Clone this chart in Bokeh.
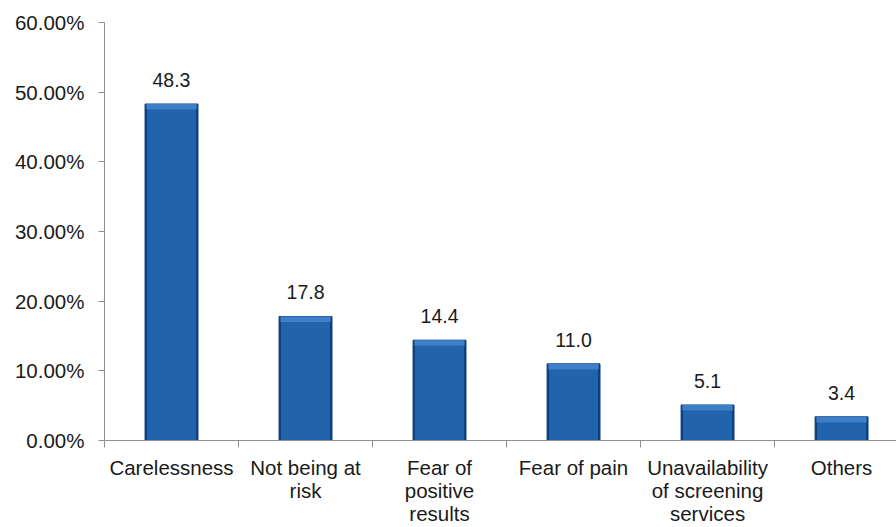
from bokeh.plotting import figure
from bokeh.models import ColumnDataSource, Range1d, FixedTicker, PrintfTickFormatter, LabelSet
from bokeh.core.properties import value
from bokeh.embed import file_html
from bokeh.resources import INLINE

categories = ["Carelessness", "Not being at\nrisk", "Fear of\npositive\nresults",
              "Fear of pain", "Unavailability\nof screening\nservices", "Others"]
values = [48.3, 17.8, 14.4, 11.0, 5.1, 3.4]
value_labels = ["48.3", "17.8", "14.4", "11.0", "5.1", "3.4"]
y_ticks = [0, 10, 20, 30, 40, 50, 60]

FONT = "Liberation Sans"
centers = [i + 0.5 for i in range(len(categories))]
src = ColumnDataSource(dict(x=centers, top=values, lab=value_labels,
                            top_hi=[v - 0.8 for v in values]))

p = figure(width=896, height=527, output_backend="svg", toolbar_location=None,
           x_range=Range1d(0, 5.91), y_range=Range1d(0, 60),
           min_border_left=104, min_border_right=0, min_border_top=22, min_border_bottom=86)
p.outline_line_color = None
p.xgrid.grid_line_color = None
p.ygrid.grid_line_color = None
p.background_fill_color = "white"
p.border_fill_color = "white"

# bars: dark edge, main body, light top bevel
p.vbar(x="x", top="top", bottom=0, width=0.395, source=src,
       fill_color="#0F3F7C", line_color="#0F3F7C")
p.vbar(x="x", top="top", bottom=0, width=0.365, source=src,
       fill_color="#2263AD", line_color=None)
p.vbar(x="x", top="top", bottom="top_hi", width=0.375, source=src,
       fill_color="#3D7FC8", line_color=None)

labels = LabelSet(x="x", y="top", text="lab", source=src, text_align="center",
                  text_baseline="bottom", y_offset=17, text_font=value(FONT),
                  text_font_size=value("19.5px"), text_color="#1a1a1a")
p.add_layout(labels)

ax = p.yaxis[0]
ax.ticker = FixedTicker(ticks=y_ticks)
ax.formatter = PrintfTickFormatter(format="%.2f%%")
ax.major_label_text_font = FONT
ax.major_label_text_font_size = "20.5px"
ax.major_label_text_color = "#1a1a1a"
ax.axis_line_color = "#8f8f8f"
ax.major_tick_line_color = "#8f8f8f"
ax.major_tick_in = 0
ax.major_tick_out = 6
ax.minor_tick_line_color = None
ax.major_label_standoff = 14

bx = p.xaxis[0]
bx.ticker = FixedTicker(ticks=centers, minor_ticks=[0, 1, 2, 3, 4, 5])
bx.major_label_overrides = {c: lab for c, lab in zip(centers, categories)}
bx.major_label_text_font = FONT
bx.major_label_text_font_size = "20.5px"
bx.major_label_text_color = "#1a1a1a"
bx.major_label_text_line_height = 1.0
bx.axis_line_color = "#8f8f8f"
bx.major_tick_line_color = None
bx.minor_tick_line_color = "#8f8f8f"
bx.minor_tick_in = 0
bx.minor_tick_out = 7
bx.major_label_standoff = 8

open("out.html", "w").write(file_html(p, INLINE))
